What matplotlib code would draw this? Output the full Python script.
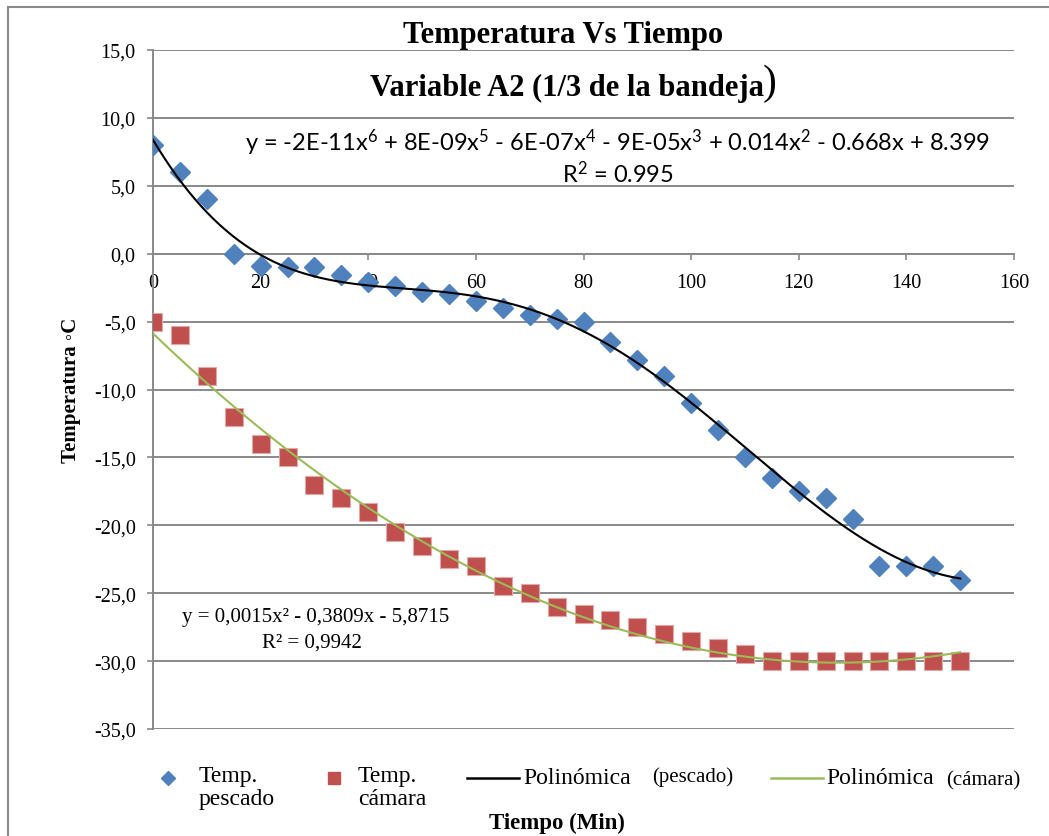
import numpy as np
import matplotlib
matplotlib.use('Agg')
import matplotlib.pyplot as plt
from matplotlib.lines import Line2D
from matplotlib.patches import Rectangle
from matplotlib.ticker import FuncFormatter, MultipleLocator

# data
tiempo = [0, 5, 10, 15, 20, 25, 30, 35, 40, 45, 50, 55, 60, 65, 70, 75,
          80, 85, 90, 95, 100, 105, 110, 115, 120, 125, 130, 135, 140, 145, 150]
temp_pescado = [8.0, 6.0, 4.0, 0.0, -0.9, -1.0, -1.0, -1.6, -2.1, -2.4, -2.8, -3.0, -3.5, -4.0, -4.5, -4.8,
                -5.0, -6.5, -7.8, -9.0, -11.0, -13.0, -15.0, -16.5, -17.5, -18.0, -19.5, -23.0, -23.0, -23.0, -24.0]
temp_camara = [-5.0, -6.0, -9.0, -12.0, -14.0, -15.0, -17.0, -18.0, -19.0, -20.5, -21.5, -22.5, -23.0, -24.5, -25.0, -26.0,
               -26.5, -27.0, -27.5, -28.0, -28.5, -29.0, -29.5, -30.0, -30.0, -30.0, -30.0, -30.0, -30.0, -30.0, -30.0]
x_ticks = [0, 20, 40, 60, 80, 100, 120, 140, 160]

W, H = 1049, 837
SERIF = ['Liberation Serif', 'DejaVu Serif']
SANS = ['Lato', 'Noto Sans', 'DejaVu Sans']
BLUE = '#4F81BD'
RED = '#C0504D'
GREEN = '#9BBB59'
GRAY = '#898989'

plt.rcParams['mathtext.fontset'] = 'custom'
plt.rcParams['mathtext.rm'] = 'Lato'
plt.rcParams['mathtext.it'] = 'Lato'
plt.rcParams['mathtext.default'] = 'regular'


def px(x, y):
    # pixel position (from top-left) -> figure fraction
    return x / W, 1 - y / H


fig = plt.figure(figsize=(W / 100, H / 100), dpi=100)
fig.add_artist(Rectangle(px(8, 900), 1.2, (900 - 8) / H, transform=fig.transFigure,
                         fill=False, ec=GRAY, lw=1.5))

ax = fig.add_axes([153 / W, 1 - 730 / H, 861 / W, 679 / H])
ax.set_xlim(0, 160)
ax.set_ylim(-35, 15)

x = np.array(tiempo, dtype=float)
ax.plot(x, temp_pescado, linestyle='none', marker='D', ms=10, color=BLUE, mec=BLUE, zorder=3)
ax.plot(x, temp_camara, linestyle='none', marker='s', ms=13.5, color=RED, mec='#E3A9A8', mew=0.8, zorder=3)

# polynomial trendlines (fitted like Excel does)
xs = np.linspace(0, 150, 400)
fit_p = np.polyfit(x, temp_pescado, 6)
fit_c = np.polyfit(x, temp_camara, 2)
ax.plot(xs, np.polyval(fit_p, xs), color='black', lw=1.5, zorder=4)
ax.plot(xs, np.polyval(fit_c, xs), color=GREEN, lw=1.5, zorder=4)

ax.yaxis.set_major_locator(MultipleLocator(5))
ax.yaxis.set_major_formatter(FuncFormatter(lambda v, p: f"{v:.1f}".replace('.', ',')))
ax.set_xticks(x_ticks)
ax.grid(axis='y', color=GRAY, lw=1.4)
ax.set_axisbelow(True)
for s in ['top', 'right']:
    ax.spines[s].set_visible(False)
ax.spines['bottom'].set_position(('data', 0))
for s in ['left', 'bottom']:
    ax.spines[s].set_color(GRAY)
    ax.spines[s].set_linewidth(1.4)
ax.tick_params(axis='y', direction='out', length=4.5, width=1.2, color=GRAY, pad=8)
ax.tick_params(axis='x', direction='out', length=4, width=1.2, color=GRAY, pad=10)
for lab in ax.get_xticklabels() + ax.get_yticklabels():
    lab.set_family(SERIF)
    lab.set_fontsize(14.5)

# titles
fig.text(*px(563, 35), 'Temperatura Vs Tiempo', family=SERIF, weight='bold', fontsize=22,
         ha='center', va='center')
fig.text(*px(764, 88), 'Variable A2 (1/3 de la bandeja', family=SERIF, weight='bold', fontsize=22,
         ha='right', va='center')
fig.text(*px(763, 84), ')', family=SERIF, fontsize=30, ha='left', va='center')

# trendline equations
eq_p = r'y = -2E-11x$^{6}$ + 8E-09x$^{5}$ - 6E-07x$^{4}$ - 9E-05x$^{3}$ + 0.014x$^{2}$ - 0.668x + 8.399'
fig.text(*px(618, 143), eq_p, family=SANS, fontsize=17, ha='center', va='center')
fig.text(*px(618, 174), r'R$^{2}$ = 0.995', family=SANS, fontsize=17, ha='center', va='center')
fig.text(*px(316, 618), 'y = 0,0015x² - 0,3809x - 5,8715', family=SERIF, fontsize=15,
         ha='center', va='center')
fig.text(*px(312, 643), 'R² = 0,9942', family=SERIF, fontsize=15, ha='center', va='center')

# axis titles
fig.text(*px(71, 390), 'Temperatura ◦C', family=SERIF, weight='bold', fontsize=15,
         rotation=90, ha='center', va='center')
fig.text(*px(557, 823), 'Tiempo (Min)', family=SERIF, weight='bold', fontsize=16.5,
         ha='center', va='center')

# legend drawn by hand
fig.add_artist(Line2D([168 / W], [1 - 779 / H], marker='D', ms=7, color=BLUE, transform=fig.transFigure))
fig.text(*px(199, 766), 'Temp.\npescado', family=SERIF, fontsize=17, ha='left', va='top',
         linespacing=1.15)
fig.add_artist(Line2D([334 / W], [1 - 779 / H], marker='s', ms=8.5, color=RED, transform=fig.transFigure))
fig.text(*px(358, 766), 'Temp.\ncámara', family=SERIF, fontsize=17, ha='left', va='top',
         linespacing=1.15)
fig.add_artist(Line2D([467 / W, 519 / W], [1 - 779 / H] * 2, color='black', lw=1.8,
                      transform=fig.transFigure))
fig.text(*px(523, 779), 'Polinómica', family=SERIF, fontsize=17, ha='left', va='center')
fig.text(*px(652, 777), '(pescado)', family=SERIF, fontsize=15, ha='left', va='center')
fig.add_artist(Line2D([771 / W, 823 / W], [1 - 779 / H] * 2, color=GREEN, lw=1.8,
                      transform=fig.transFigure))
fig.text(*px(826, 779), 'Polinómica', family=SERIF, fontsize=17, ha='left', va='center')
fig.text(*px(946, 781), '(cámara)', family=SERIF, fontsize=15, ha='left', va='center')

fig.savefig('out.png', dpi=100)
